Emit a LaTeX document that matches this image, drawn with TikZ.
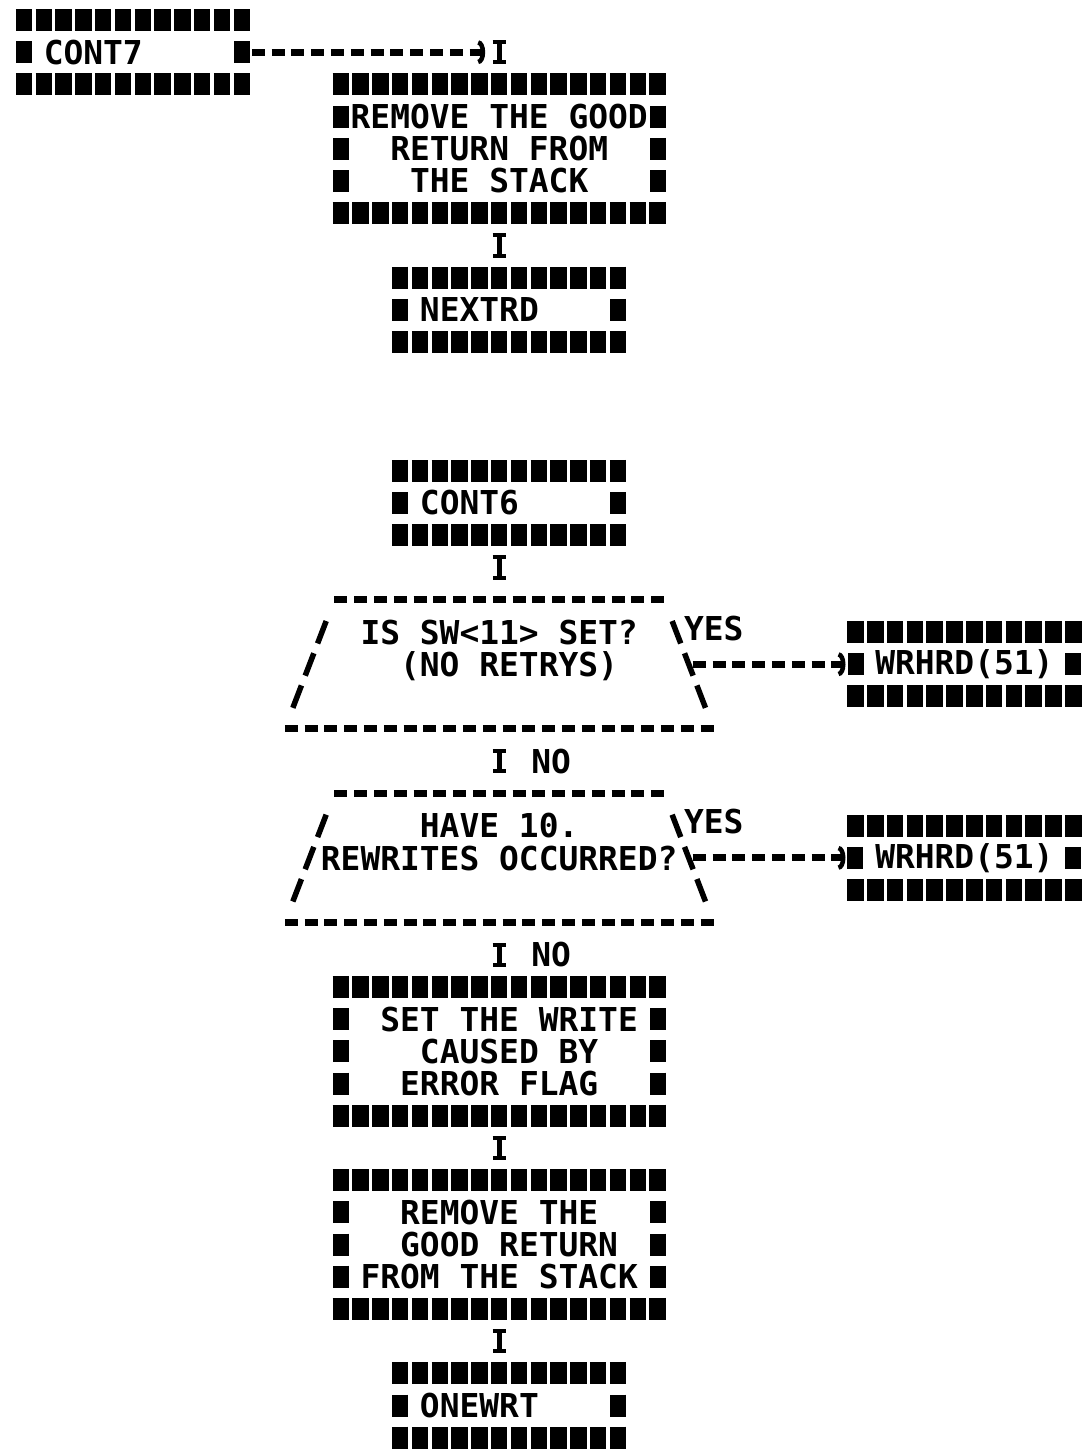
\documentclass[tikz,border=0pt]{standalone}
\usepackage{fontspec}
\usepackage{tikz}
\usetikzlibrary{shapes,arrows.meta,positioning}
\newfontfamily\lpmono{DejaVu Sans Mono}
\newcommand{\lpfont}{\lpmono\bfseries\fontsize{32.9pt}{32.2pt}\selectfont}

\begin{document}
\begin{tikzpicture}[x=1pt, y=1pt, node distance=64.4pt]
    \tikzstyle{stub} = [rectangle, inner sep=0pt, outer sep=0pt, minimum width=217.8pt, minimum height=64.4pt, font=\lpfont]
    \tikzstyle{proc} = [rectangle, inner sep=0pt, outer sep=0pt, minimum width=316.8pt, minimum height=128.8pt, font=\lpfont, align=left]
    \tikzstyle{decision} = [trapezium, trapezium left angle=68.98, trapezium right angle=68.98, trapezium stretches body, minimum width=428.8pt, minimum height=128.8pt, inner xsep=-100pt, inner ysep=20.2pt, outer sep=0pt, font=\lpfont, align=left]
    \tikzstyle{lbl} = [font=\lpfont, inner sep=0pt]
    \tikzstyle{hstars} = [line width=22pt, dash pattern=on 16.5pt off 3.3pt, shorten <=-8.25pt, shorten >=-8.25pt]
    \tikzstyle{vstars} = [line width=16pt, dash pattern=on 22pt off 10.2pt, shorten <=-11pt, shorten >=-11pt]
    \tikzstyle{dashrow} = [line width=7pt, dash pattern=on 13pt off 6.8pt]
    \tikzstyle{slash} = [line width=5.5pt, dash pattern=on 24pt off 10.5pt, dash phase=25pt, shorten <=13pt, shorten >=13pt]
    \tikzstyle{link} = [line width=7pt, dash pattern=on 13pt off 6.8pt, -{Arc Barb[length=7pt, width=24pt, line width=4.5pt]}, shorten >=10pt]
    \tikzstyle{stem} = [line width=5pt, {Bar[width=13pt, line width=4pt]}-{Bar[width=13pt, line width=4pt]}, shorten <=20pt, shorten >=20pt]

    \useasboundingbox (0,0) rectangle (1084,-1454);

    \node [stub] (cont7) at (132.9,-52.2) {CONT7~~~~~};
    \node [proc, below right=0pt and 99pt of cont7] (remove1) {REMOVE THE GOOD\\~~RETURN FROM\\~~~THE STACK};
    \node [stub, below=of remove1, xshift=9.9pt] (nextrd) {NEXTRD~~~~};

    \node [stub, below=128.8pt of nextrd] (cont6) {CONT6~~~~~};
    \node [decision, below=of cont6, xshift=-9.9pt] (dec1) {IS SW<11> SET?~\\~~(NO RETRYS)\\~};
    \node [stub, right=166.75pt of dec1] (wrhrd1) {WRHRD(51)~};
    \node [decision, below=of dec1] (dec2) {~~~~~HAVE 10.\\REWRITES OCCURRED?~\\~};
    \node [stub, right=166.75pt of dec2] (wrhrd2) {WRHRD(51)~};
    \node [proc, below=of dec2] (setw) {~SET THE WRITE~\\~~~CAUSED BY\\~~ERROR FLAG};
    \node [proc, below=of setw] (remove2) {~~REMOVE THE\\~~GOOD RETURN\\FROM THE STACK~};
    \node [stub, below=of remove2, xshift=9.9pt] (onewrt) {ONEWRT~~~~};

    % asterisk frames
    \foreach \b in {cont7,remove1,nextrd,cont6,wrhrd1,wrhrd2,setw,remove2,onewrt} {
        \path [draw, hstars] (\b.north west) -- (\b.north east);
        \path [draw, hstars] (\b.south west) -- (\b.south east);
        \path [draw, vstars] (\b.north west) -- (\b.south west);
        \path [draw, vstars] (\b.north east) -- (\b.south east);
    }
    \foreach \d in {dec1,dec2} {
        \path [draw, dashrow] (\d.top left corner) -- (\d.top right corner);
        \path [draw, dashrow] (\d.bottom left corner) -- (\d.bottom right corner);
        \path [draw, slash] (\d.bottom left corner) -- (\d.top left corner);
        \path [draw, slash] (\d.bottom right corner) -- (\d.top right corner);
    }

    \coordinate [yshift=12pt] (c7top) at (cont7.east -| remove1.north);
    \path [draw, link, shorten <=10pt, shorten >=14pt] (cont7.east) -- (cont7.east -| remove1.north);
    \path [draw, stem, shorten <=0pt] (c7top) -- (remove1.north);
    \path [draw, stem] (remove1.south) -- (remove1.south |- nextrd.north);
    \path [draw, stem] (dec1.north |- cont6.south) -- (dec1.north);
    \path [draw, link, shorten <=4pt] (dec1.east) -- node [lbl, pos=0.15, above=20pt] {YES} (wrhrd1.west);
    \path [draw, stem] (dec1.south) -- node [lbl, right=29.7pt] {NO} (dec2.north);
    \path [draw, link, shorten <=4pt] (dec2.east) -- node [lbl, pos=0.15, above=20pt] {YES} (wrhrd2.west);
    \path [draw, stem] (dec2.south) -- node [lbl, right=29.7pt] {NO} (setw.north);
    \path [draw, stem] (setw.south) -- (remove2.north);
    \path [draw, stem] (remove2.south) -- (remove2.south |- onewrt.north);
\end{tikzpicture}
\end{document}
